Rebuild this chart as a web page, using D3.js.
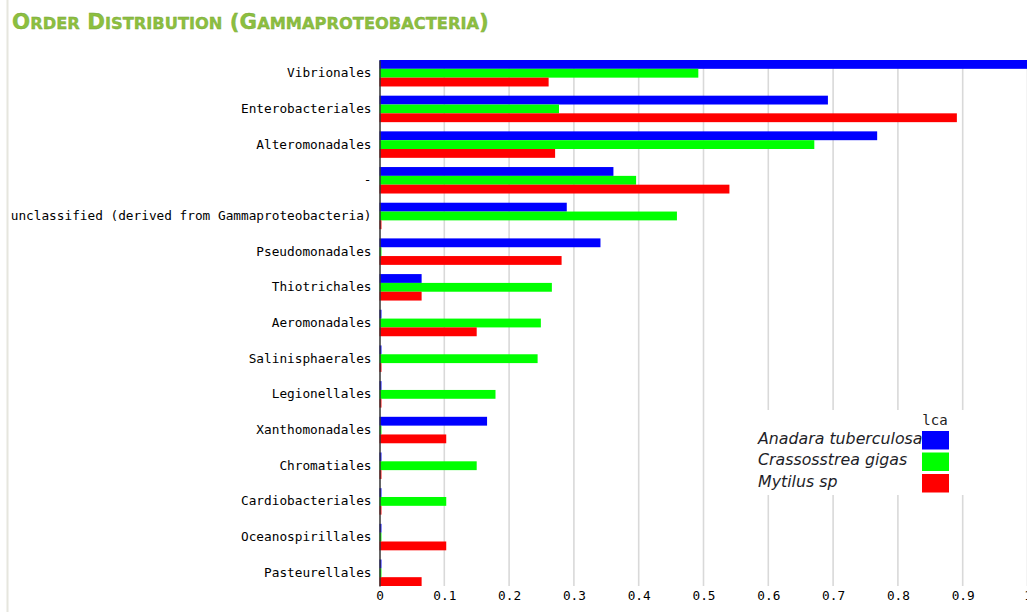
<!DOCTYPE html>
<html>
<head>
<meta charset="utf-8">
<script src="https://cdn.jsdelivr.net/npm/d3@7"></script>
<style>
  html, body { margin: 0; padding: 0; background: #fff; }
  svg { display: block; }
</style>
</head>
<body>
<svg id="chart" width="1027" height="612"></svg>
<script>
// Orders (top to bottom) and the share of each sample assigned to them
const orders = [
  "Vibrionales", "Enterobacteriales", "Alteromonadales", "-",
  "unclassified (derived from Gammaproteobacteria)", "Pseudomonadales",
  "Thiotrichales", "Aeromonadales", "Salinisphaerales", "Legionellales",
  "Xanthomonadales", "Chromatiales", "Cardiobacteriales",
  "Oceanospirillales", "Pasteurellales"
];
const samples = ["Anadara tuberculosa", "Crassosstrea gigas", "Mytilus sp"];
const anadara     = [1.000, 0.692, 0.768, 0.361, 0.289, 0.341, 0.065, 0.003, 0.003, 0.003, 0.166, 0.003, 0.003, 0.003, 0.003];
const crassostrea = [0.492, 0.277, 0.671, 0.396, 0.459, 0.003, 0.266, 0.249, 0.244, 0.179, 0.003, 0.150, 0.103, 0.003, 0.003];
const mytilus     = [0.261, 0.891, 0.271, 0.540, 0.003, 0.281, 0.065, 0.150, 0.003, 0.003, 0.103, 0.003, 0.003, 0.103, 0.065];
const seriesColors = ["#0000ff", "#00ff00", "#ff0000"];
const xTicks = [0, 0.1, 0.2, 0.3, 0.4, 0.5, 0.6, 0.7, 0.8, 0.9, 1];
const legendTitle = "lca";
const title = "Order Distribution (Gammaproteobacteria)";

const series = [anadara, crassostrea, mytilus];
const rows = orders.map((o, i) => ({ order: o, values: series.map(s => s[i]) }));

const svg = d3.select("#chart");
const plot = { left: 379.5, right: 1027.5, top: 60, bottom: 586 };

// page frame line on the left
svg.append("line")
  .attr("x1", 7.5).attr("x2", 7.5).attr("y1", 0).attr("y2", 612)
  .attr("stroke", "#e6e6de").attr("stroke-width", 2);

// heading in small capitals: initial letters full size, the rest smaller
const heading = svg.append("text")
  .attr("x", 12).attr("y", 29)
  .attr("font-family", "DejaVu Sans, Verdana, sans-serif")
  .attr("font-weight", "bold")
  .attr("fill", "#8cbf40")
  .attr("stroke", "#78a436").attr("stroke-width", 0.35);
const pieces = [];
title.split("").forEach(ch => {
  const big = ch === ch.toUpperCase();
  const last = pieces[pieces.length - 1];
  if (last && last.big === big) last.text += ch.toUpperCase();
  else pieces.push({ big, text: ch.toUpperCase() });
});
const capSize = 21, smallSize = 16;
const spans = heading.selectAll("tspan").data(pieces).join("tspan")
  .attr("font-size", d => d.big ? capSize : smallSize)
  .text(d => d.text);
// fit the heading to its column width
const natural = heading.node().getComputedTextLength();
const k = 477 / natural;
spans.attr("font-size", d => (d.big ? capSize : smallSize) * k);

const x = d3.scaleLinear().domain([0, 1]).range([plot.left, plot.right]);
const y = d3.scaleBand().domain(orders).range([plot.top, plot.bottom])
  .paddingInner(0.258).paddingOuter(0);
const ySub = d3.scaleBand().domain(d3.range(samples.length)).range([0, y.bandwidth()]);

// vertical gridlines
svg.append("g").selectAll("line")
  .data(xTicks.filter(t => t > 0))
  .join("line")
  .attr("x1", d => x(d)).attr("x2", d => x(d))
  .attr("y1", plot.top).attr("y2", plot.bottom)
  .attr("stroke", "#d9d9d9").attr("stroke-width", 1.6);

// grouped bars
const groups = svg.append("g").selectAll("g")
  .data(rows)
  .join("g")
  .attr("transform", d => `translate(0,${y(d.order)})`);

groups.selectAll("rect")
  .data(d => d.values.map((v, k) => ({ v, k })))
  .join("rect")
  .attr("x", x(0))
  .attr("y", d => ySub(d.k))
  .attr("width", d => x(d.v) - x(0))
  .attr("height", ySub.bandwidth())
  .attr("fill", d => seriesColors[d.k]);

// category axis
const yAxis = svg.append("g")
  .attr("transform", `translate(${plot.left},0)`)
  .call(d3.axisLeft(y).tickSize(0).tickPadding(8));
yAxis.select(".domain").attr("stroke", "#333").attr("stroke-width", 1.5);
yAxis.selectAll("text")
  .attr("font-family", "DejaVu Sans Mono, monospace")
  .attr("font-size", 12.75)
  .attr("fill", "#000");

// value axis
const xAxis = svg.append("g")
  .attr("transform", `translate(0,${plot.bottom})`)
  .call(d3.axisBottom(x).tickValues(xTicks).tickFormat(d3.format("~g")).tickSize(0).tickPadding(5));
xAxis.select(".domain").remove();
xAxis.selectAll("text")
  .attr("font-family", "DejaVu Sans Mono, monospace")
  .attr("font-size", 12.75)
  .attr("fill", "#000");

// legend
const legend = svg.append("g");
legend.append("rect")
  .attr("x", 735).attr("y", 410).attr("width", 265).attr("height", 85)
  .attr("fill", "#fff");
legend.append("text")
  .attr("x", 935).attr("y", 425)
  .attr("text-anchor", "middle")
  .attr("font-family", "DejaVu Sans Mono, monospace")
  .attr("font-size", 14)
  .attr("fill", "#222")
  .text(legendTitle);
const items = legend.selectAll("g.item")
  .data(samples)
  .join("g").attr("class", "item")
  .attr("transform", (d, i) => `translate(0,${431 + i * 21.5})`);
items.append("rect")
  .attr("x", 922).attr("y", 0).attr("width", 27).attr("height", 18.5)
  .attr("fill", (d, i) => seriesColors[i]);
items.append("text")
  .attr("x", 758).attr("y", 12.5)
  .attr("font-family", "DejaVu Sans, sans-serif")
  .attr("font-style", "italic")
  .attr("font-size", 15.8)
  .attr("fill", "#1e1e28")
  .text(d => d);
</script>
</body>
</html>
